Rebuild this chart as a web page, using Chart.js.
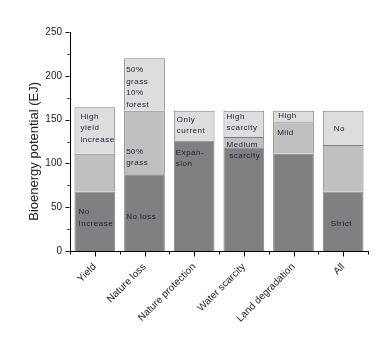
<!DOCTYPE html>
<html>
<head>
<meta charset="utf-8">
<script src="https://cdn.jsdelivr.net/npm/chart.js@4"></script>
<style>
  html, body { margin: 0; padding: 0; background: #fff; }
  #wrap { width: 390px; height: 347px; position: relative; }
</style>
</head>
<body>
<div id="wrap"><canvas id="chart" width="390" height="347"></canvas></div>
<script>
(function () {
  "use strict";

  // Scenario categories along the x axis.
  const CATEGORIES = ["Yield", "Nature loss", "Nature protection", "Water scarcity", "Land degradation", "All"];

  // Stacked potential per scenario (EJ): base, middle step, upper step.
  const BASE = [68, 87.5, 126, 118.5, 111, 68];
  const MIDDLE = [43, 72.5, 0, 11.5, 36, 53];
  const UPPER = [53, 60, 34, 30, 13, 39];

  // Y axis: 0..250, labelled every 50, minor marks every 25.
  const Y_MAX = 250;
  const Y_MAJOR = 50;
  const Y_MINOR = 25;
  const Y_TITLE = "Bioenergy potential (EJ)";

  // In-bar notes: bar index, value (EJ) at the first line, indent, text lines.
  const NOTES = [
    { bar: 0, at: 153.4, indent: 6, lines: ["High", "yield", "increase"] },
    { bar: 0, at: 44.3, indent: 4, lines: ["No", "Increase"] },
    { bar: 1, at: 206.8, indent: 2, lines: ["50%", "grass", "10%", "forest"] },
    { bar: 1, at: 113.6, indent: 2, lines: ["50%", "grass"] },
    { bar: 1, at: 38.6, indent: 2, lines: ["No loss"] },
    { bar: 2, at: 150, indent: 3, lines: ["Only", "current"] },
    { bar: 2, at: 112.5, indent: 2, lines: ["Expan-", "sion"] },
    { bar: 3, at: 153.4, indent: 3, lines: ["High", "scarcity"] },
    { bar: 3, at: 121.6, indent: 3, lines: ["Medium", " scarcity"] },
    { bar: 4, at: 154.5, indent: 5, lines: ["High"] },
    { bar: 4, at: 134.4, indent: 4, lines: ["Mild"] },
    { bar: 5, at: 139, indent: 11, lines: ["No"] },
    { bar: 5, at: 31, indent: 8, lines: ["Strict"] },
  ];

  const COLORS = {
    base: "#808080",
    middle: "#c0c0c0",
    upper: "#dddddd",
    edge: "#808080",
    axis: "#000000",
    tick: "#222222",
    note: "#1c1c3a",
  };

  const FONT = "'Liberation Sans', Arial, sans-serif";

  // Axis tick marks: long ones at labelled values / bar centres, short ones between.
  const tickMarks = {
    id: "tickMarks",
    afterDraw(chart) {
      const { ctx, scales: { x, y } } = chart;
      ctx.save();
      ctx.strokeStyle = COLORS.axis;
      ctx.lineWidth = 1;
      ctx.beginPath();
      const yb = Math.round(y.bottom) + 0.5;
      for (let i = 0; i < CATEGORIES.length; i++) {
        const c = Math.round(x.getPixelForValue(i)) + 0.5;
        ctx.moveTo(c, yb);
        ctx.lineTo(c, yb + 5);
      }
      for (let i = 0; i <= CATEGORIES.length; i++) {
        const b = Math.round(x.getPixelForValue(i - 0.5)) + 0.5;
        ctx.moveTo(b, yb);
        ctx.lineTo(b, yb + 3);
      }
      const xl = Math.round(x.left) - 0.5;
      for (let v = 0; v <= Y_MAX; v += Y_MINOR) {
        const p = Math.round(y.getPixelForValue(v)) + 0.5;
        ctx.moveTo(xl, p);
        ctx.lineTo(xl - (v % Y_MAJOR === 0 ? 4 : 2), p);
      }
      ctx.stroke();

      // y title, set a little below the axis middle
      ctx.translate(34, y.getPixelForValue(Y_MAX * 0.455));
      ctx.rotate(-Math.PI / 2);
      ctx.font = "13px " + FONT;
      ctx.fillStyle = COLORS.tick;
      ctx.textAlign = "center";
      ctx.textBaseline = "middle";
      ctx.fillText(Y_TITLE, 0, 0);
      ctx.restore();
    },
  };

  // Text notes written inside the stacked segments.
  const barNotes = {
    id: "barNotes",
    afterDatasetsDraw(chart) {
      const { ctx, scales: { y } } = chart;
      const meta = chart.getDatasetMeta(0);
      ctx.save();
      ctx.font = "8px " + FONT;
      ctx.letterSpacing = "0.5px";
      ctx.fillStyle = COLORS.note;
      ctx.textAlign = "left";
      ctx.textBaseline = "middle";
      NOTES.forEach((n) => {
        const bar = meta.data[n.bar];
        const left = bar.x - bar.width / 2;
        const top = y.getPixelForValue(n.at);
        n.lines.forEach((line, k) => {
          ctx.fillText(line, left + n.indent, top + k * 11.5);
        });
      });
      ctx.restore();
    },
  };

  function segment(label, data, color) {
    return {
      label: label,
      data: data,
      backgroundColor: color,
      borderColor: COLORS.edge,
      borderWidth: 1,
      borderSkipped: "bottom",
      barPercentage: 0.82,
      categoryPercentage: 1,
    };
  }

  new Chart(document.getElementById("chart"), {
    type: "bar",
    data: {
      labels: CATEGORIES,
      datasets: [
        segment("Base", BASE, COLORS.base),
        segment("Middle", MIDDLE, COLORS.middle),
        segment("Upper", UPPER, COLORS.upper),
      ],
    },
    options: {
      responsive: false,
      animation: false,
      devicePixelRatio: 1,
      layout: { padding: { top: 32, right: 22, left: 22, bottom: 0 } },
      plugins: { legend: { display: false }, tooltip: { enabled: false } },
      scales: {
        x: {
          stacked: true,
          grid: { display: false, drawTicks: false },
          border: { display: true, color: COLORS.axis, width: 1 },
          ticks: {
            color: COLORS.tick,
            font: { family: FONT, size: 10 },
            minRotation: 45,
            maxRotation: 45,
            autoSkip: false,
            padding: 10,
          },
          afterFit(scale) { scale.height = 96; },
        },
        y: {
          stacked: true,
          min: 0,
          max: Y_MAX,
          grid: { display: false, drawTicks: false },
          border: { display: true, color: COLORS.axis, width: 1 },
          ticks: {
            stepSize: Y_MINOR,
            color: COLORS.tick,
            font: { family: FONT, size: 10 },
            padding: 8,
            callback: (v) => (v % Y_MAJOR === 0 ? v : ""),
          },
          afterFit(scale) { scale.width = 48; },
        },
      },
    },
    plugins: [barNotes, tickMarks],
  });
})();
</script>
</body>
</html>
